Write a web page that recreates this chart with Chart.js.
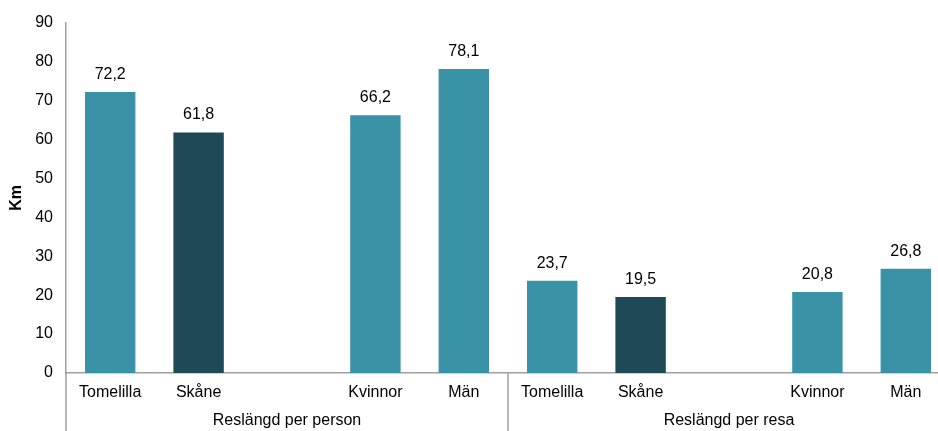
<!DOCTYPE html>
<html>
<head>
<meta charset="utf-8">
<script src="https://cdn.jsdelivr.net/npm/chart.js@4"></script>
<style>
  html, body { margin: 0; padding: 0; background: #fff; overflow: hidden; }
  #wrap { width: 952px; height: 431px; position: relative; }
</style>
</head>
<body>
<div id="wrap"><canvas id="myChart"></canvas></div>
<script>
(() => {
    'use strict';

    // Data
    const categories = ['Tomelilla', 'Skåne', '', 'Kvinnor', 'Män',
                        'Tomelilla', 'Skåne', '', 'Kvinnor', 'Män'];
    const values = [72.2, 61.8, null, 66.2, 78.1, 23.7, 19.5, null, 20.8, 26.8];
    const groups = ['Reslängd per person', 'Reslängd per resa'];
    const groupSize = 5;

    const teal = '#3a92a7';
    const dark = '#1f4956';
    const barColors = categories.map(c => c === 'Skåne' ? dark : teal);
    const axisGray = '#a0a0a0';
    const font = 'Liberation Sans, Arial, sans-serif';

    const fmt = v => v.toFixed(1).replace('.', ',');

    // value labels above bars + group labels/separators under the axis
    const extras = {
        id: 'extras',
        afterDatasetsDraw(chart) {
            const ctx = chart.ctx;
            const meta = chart.getDatasetMeta(0);
            ctx.save();
            ctx.font = '16px ' + font;
            ctx.fillStyle = '#000';
            ctx.textAlign = 'center';
            ctx.textBaseline = 'alphabetic';
            meta.data.forEach((bar, i) => {
                const v = values[i];
                if (v == null) return;
                ctx.fillText(fmt(v), bar.x, bar.y - 13);
            });
            ctx.restore();
        },
        afterDraw(chart) {
            const ctx = chart.ctx;
            const x = chart.scales.x;
            const area = chart.chartArea;
            const half = (x.getPixelForValue(1) - x.getPixelForValue(0)) / 2;
            ctx.save();
            ctx.strokeStyle = axisGray;
            ctx.lineWidth = 1.5;
            for (let g = 0; g <= groups.length; g++) {
                const px = g === 0 ? area.left : x.getPixelForValue(g * groupSize - 1) + half;
                ctx.beginPath();
                ctx.moveTo(px, area.bottom);
                ctx.lineTo(px, chart.height);
                ctx.stroke();
            }
            ctx.font = '16px ' + font;
            ctx.fillStyle = '#000';
            ctx.textAlign = 'center';
            ctx.textBaseline = 'middle';
            groups.forEach((name, g) => {
                const a = x.getPixelForValue(g * groupSize) - half;
                const b = x.getPixelForValue(g * groupSize + groupSize - 1) + half;
                ctx.fillText(name, (a + b) / 2, 421);
            });
            ctx.restore();
        }
    };

    const ctx = document.getElementById('myChart').getContext('2d');
    // eslint-disable-next-line no-unused-vars
    const myChart = new Chart(ctx, {
        type: 'bar',
        data: {
            labels: categories,
            datasets: [{
                data: values,
                backgroundColor: barColors,
                barPercentage: 0.57,
                categoryPercentage: 1.0
            }]
        },
        plugins: [extras],
        options: {
            responsive: true,
            maintainAspectRatio: false,
            animation: false,
            layout: {
                padding: { top: 22, right: 2, bottom: 0, left: 0 }
            },
            scales: {
                x: {
                    grid: { display: false, drawTicks: false },
                    border: { display: true, color: axisGray, width: 1.5 },
                    ticks: {
                        color: '#000',
                        font: { family: font, size: 16 },
                        padding: 10,
                        maxRotation: 0,
                        autoSkip: false
                    },
                    afterFit(scale) { scale.height = 58; }
                },
                y: {
                    min: 0,
                    max: 90,
                    grid: { display: false, drawTicks: false },
                    border: { display: true, color: axisGray, width: 1.5 },
                    ticks: {
                        stepSize: 10,
                        color: '#000',
                        font: { family: font, size: 16 },
                        padding: 13
                    },
                    title: {
                        display: true,
                        text: 'Km',
                        color: '#000',
                        font: { family: font, size: 16, weight: 'bold' },
                        padding: { top: 7, bottom: 0 }
                    },
                    afterFit(scale) { scale.width = 66; }
                }
            },
            plugins: {
                legend: { display: false },
                tooltip: { enabled: false }
            }
        }
    });
})();
</script>
</body>
</html>
